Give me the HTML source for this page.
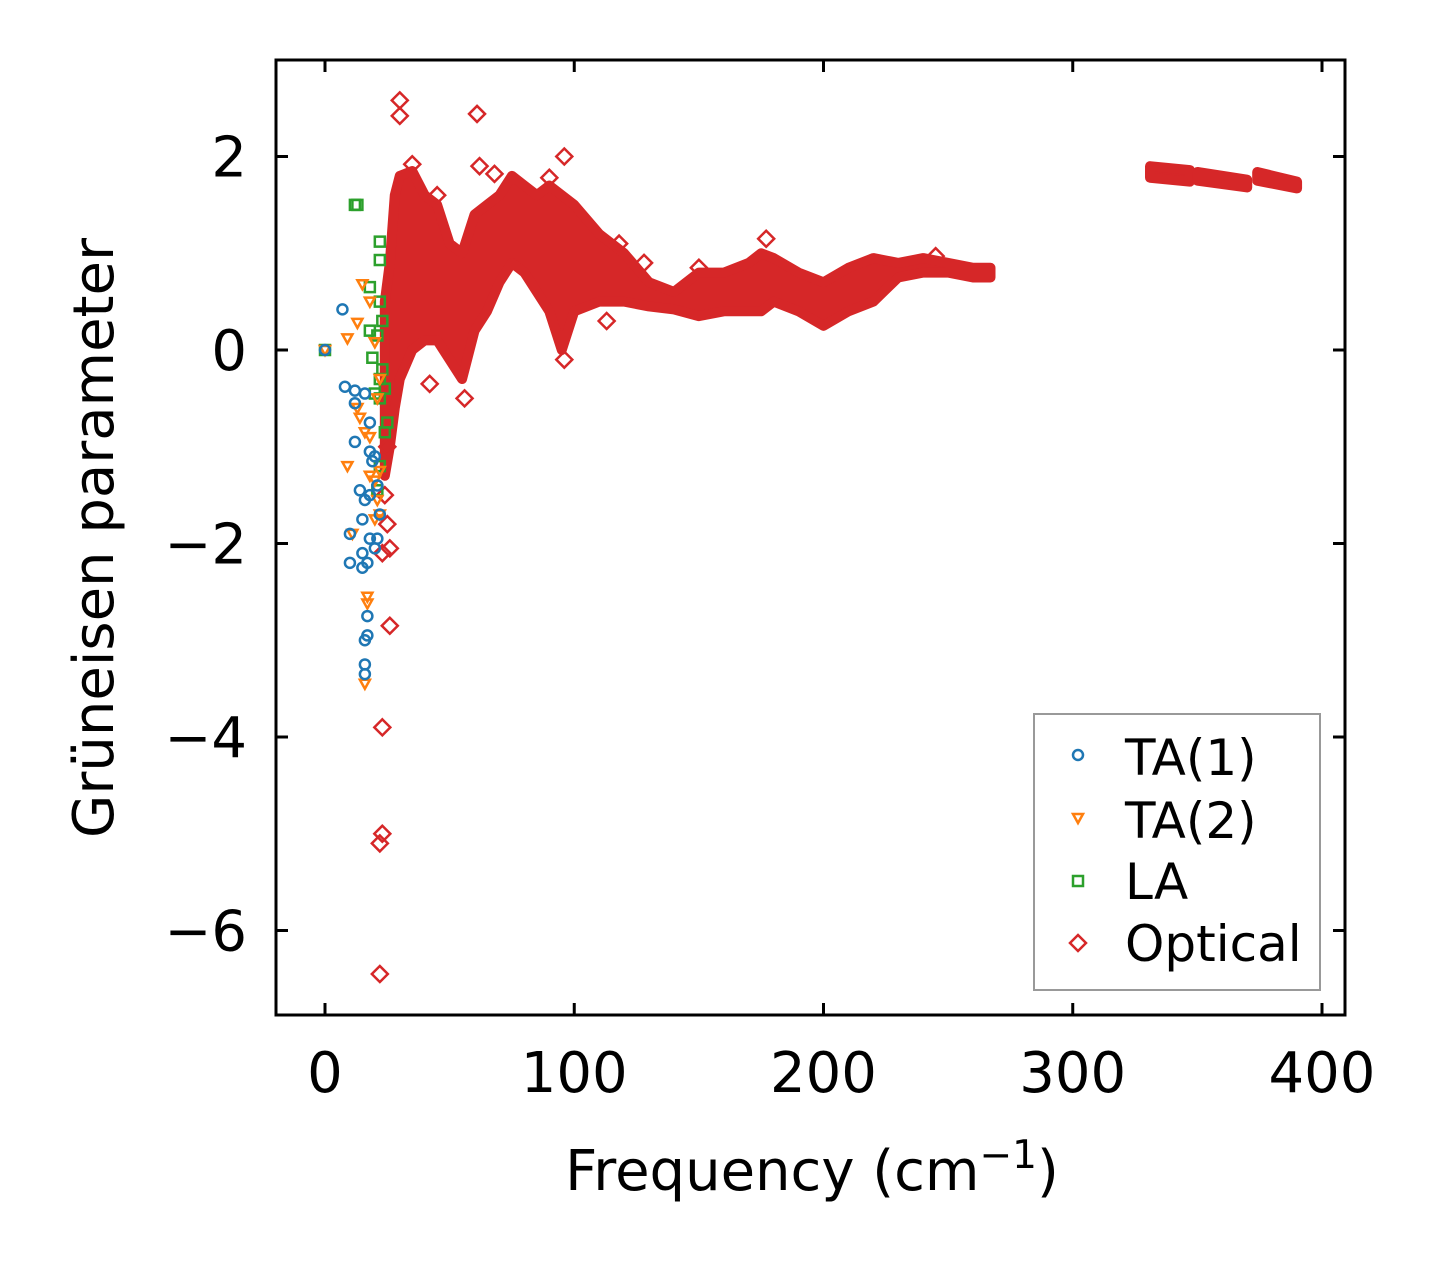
<!DOCTYPE html>
<html><head><meta charset="utf-8"><style>
html,body{margin:0;padding:0;background:#fff;}
svg text{font-family:"DejaVu Sans","Liberation Sans",sans-serif;}
</style></head><body>
<svg id="chart" width="1438" height="1264" viewBox="0 0 1438 1264" xmlns="http://www.w3.org/2000/svg">
<rect x="0" y="0" width="1438" height="1264" fill="#fff"/>
<g id="marks"></g>
<rect x="276" y="60" width="1069" height="955" fill="none" stroke="#000" stroke-width="3"/>
<g id="axes"></g>
<text x="812" y="1190" font-size="56" text-anchor="middle">Frequency (cm<tspan dy="-22" font-size="39">−1</tspan><tspan dy="22">)</tspan></text>
<text transform="translate(113,538) rotate(-90)" font-size="56" text-anchor="middle">Grüneisen parameter</text>
<g>
<rect x="1034" y="714" width="286" height="276" fill="#fff" stroke="#999" stroke-width="2"/>
<circle cx="1078" cy="755" r="5" fill="none" stroke="#1f77b4" stroke-width="2.5"/>
<text x="1125" y="775" font-size="50">TA(1)</text>
<path d="M1073 814 L1083 814 L1078 823 Z" fill="none" stroke="#ff7f0e" stroke-width="2.5"/>
<text x="1125" y="838" font-size="50">TA(2)</text>
<rect x="1073" y="876" width="10" height="10" fill="none" stroke="#2ca02c" stroke-width="2.5"/>
<text x="1125" y="899" font-size="50">LA</text>
<path d="M1078 935 L1086 943 L1078 951 L1070 943 Z" fill="none" stroke="#d62728" stroke-width="2.5"/>
<text x="1125" y="961" font-size="50">Optical</text>
</g>
</svg>
<script>
const xTicks=[0,100,200,300,400];
const yTicks=[2,0,-2,-4,-6];
// optical dense band envelope: frequency, lower, upper
const bandFreq=[24,26,28,30,35,40,45,50,55,60,65,70,75,80,85,90,95,100,110,120,130,140,150,160,170,175,180,190,200,210,220,230,240,250,260,267];
const bandLow=[-1.3,-1.0,-0.6,-0.3,0.0,0.1,0.1,-0.1,-0.3,0.2,0.4,0.7,0.9,0.8,0.6,0.4,0.0,0.4,0.5,0.5,0.45,0.42,0.35,0.4,0.4,0.4,0.5,0.4,0.25,0.4,0.5,0.75,0.8,0.8,0.75,0.75];
const bandHigh=[0.5,0.9,1.6,1.8,1.85,1.6,1.5,1.1,1.0,1.4,1.5,1.6,1.8,1.7,1.6,1.7,1.6,1.5,1.2,1.0,0.7,0.6,0.8,0.8,0.9,1.0,0.95,0.8,0.7,0.85,0.95,0.9,0.95,0.9,0.85,0.85];
const clusterFreq=[[331,347],[350,370],[374,390]];
const clusterLow=[[1.78,1.74],[1.75,1.68],[1.75,1.67]];
const clusterHigh=[[1.9,1.86],[1.84,1.76],[1.84,1.74]];
const optX=[30,30,61,96,62,25,26,23,26,23,23,22,22,42,56,96,177,150,113,24,25,35,45,68,90,118,128,245];
const optY=[2.58,2.42,2.44,2.0,1.9,-1.8,-2.05,-2.1,-2.85,-3.9,-5.0,-5.1,-6.45,-0.35,-0.5,-0.1,1.15,0.85,0.3,-1.5,-1.0,1.92,1.6,1.82,1.78,1.1,0.9,0.97];
const ta1X=[0,7,8,12,12,12,14,15,16,18,10,10,15,15,17,18,20,21,17,17,16,16,16,18,20,19,21,18,16,22];
const ta1Y=[0,0.42,-0.38,-0.42,-0.95,-0.55,-1.45,-1.75,-1.55,-1.5,-1.9,-2.2,-2.1,-2.25,-2.2,-1.95,-2.05,-1.95,-2.75,-2.95,-3.0,-3.25,-3.35,-1.05,-1.1,-1.15,-1.4,-0.75,-0.45,-1.7];
const ta2X=[0,9,13,15,18,20,13,14,16,18,9,18,20,21,22,20,11,17,17,16,22,21,22];
const ta2Y=[0,0.12,0.28,0.68,0.5,0.08,-0.6,-0.7,-0.85,-0.9,-1.2,-1.3,-1.35,-1.55,-1.7,-1.75,-1.9,-2.55,-2.62,-3.45,-1.25,-0.5,-0.3];
const laX=[0,12,13,22,22,18,22,23,18,21,19,22,24,22,25,24,23,20,22,21];
const laY=[0,1.5,1.5,1.12,0.93,0.65,0.5,0.3,0.2,0.15,-0.08,-0.3,-0.4,-0.5,-0.75,-0.85,-0.2,-0.45,-1.2,-1.45];

const NS='http://www.w3.org/2000/svg';
const sx=v=>325+v*2.4925;
const sy=v=>350-v*96.75;
const marks=document.getElementById('marks');
const axes=document.getElementById('axes');
function mk(tag,attrs,parent){const e=document.createElementNS(NS,tag);for(const k in attrs)e.setAttribute(k,attrs[k]);parent.appendChild(e);return e;}

xTicks.forEach(t=>{
  const x=sx(t);
  const a=mk('line',{x1:x,y1:1015,x2:x,y2:1003,stroke:'#000','stroke-width':3},axes);
  
  
  const b=mk('line',{x1:x,y1:60,x2:x,y2:72,stroke:'#000','stroke-width':3},axes);
  
  
  const l=mk('text',{x:x,y:1092,'font-size':56,'text-anchor':'middle'},axes);
  l.textContent=String(t);
  
  
});
yTicks.forEach(t=>{
  const y=sy(t);
  const a=mk('line',{x1:276,y1:y,x2:288,y2:y,stroke:'#000','stroke-width':3},axes);
  
  
  const b=mk('line',{x1:1345,y1:y,x2:1333,y2:y,stroke:'#000','stroke-width':3},axes);
  
  
  const l=mk('text',{x:247,y:y+20,'font-size':56,'text-anchor':'end'},axes);
  l.textContent=(t<0?'−':'')+Math.abs(t);
  
  
});

function bandPath(fr,lo,hi){
  let d='';
  for(let i=0;i<fr.length;i++)d+=(i?'L':'M')+sx(fr[i])+' '+sy(hi[i])+' ';
  for(let i=fr.length-1;i>=0;i--)d+='L'+sx(fr[i])+' '+sy(lo[i])+' ';
  return d+'Z';
}
const band=mk('path',{d:bandPath(bandFreq,bandLow,bandHigh),fill:'#d62728',stroke:'#d62728','stroke-width':10,'stroke-linejoin':'round'},marks);


clusterFreq.forEach((f,i)=>{
  const c=mk('path',{d:bandPath(f,clusterLow[i],clusterHigh[i]),fill:'#d62728',stroke:'#d62728','stroke-width':10,'stroke-linejoin':'round'},marks);
  
  
});
optX.forEach((v,i)=>{
  const x=sx(v),y=sy(optY[i]);
  const p=mk('path',{d:`M${x} ${y-8}L${x+8} ${y}L${x} ${y+8}L${x-8} ${y}Z`,fill:'none',stroke:'#d62728','stroke-width':2.5},marks);
  
  
});
laX.forEach((v,i)=>{
  const x=sx(v),y=sy(laY[i]);
  const p=mk('rect',{x:x-5,y:y-5,width:10,height:10,fill:'none',stroke:'#2ca02c','stroke-width':2.5},marks);
  
  
});
ta2X.forEach((v,i)=>{
  const x=sx(v),y=sy(ta2Y[i]);
  const p=mk('path',{d:`M${x-5} ${y-4}L${x+5} ${y-4}L${x} ${y+5}Z`,fill:'none',stroke:'#ff7f0e','stroke-width':2.5},marks);
  
  
});
ta1X.forEach((v,i)=>{
  const p=mk('circle',{cx:sx(v),cy:sy(ta1Y[i]),r:5,fill:'none',stroke:'#1f77b4','stroke-width':2.5},marks);
  
  
});
</script>
</body></html>
